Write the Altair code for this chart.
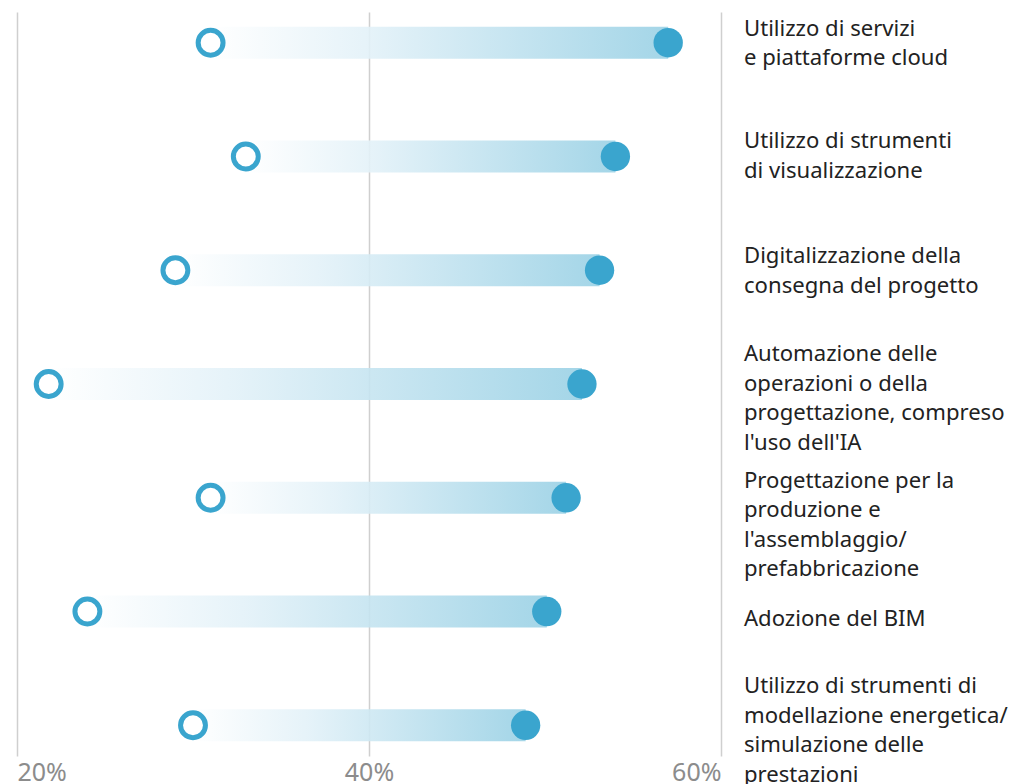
import altair as alt
import pandas as pd

labels = [
    "Utilizzo di servizi\ne piattaforme cloud",
    "Utilizzo di strumenti\ndi visualizzazione",
    "Digitalizzazione della\nconsegna del progetto",
    "Automazione delle\noperazioni o della\nprogettazione, compreso\nl'uso dell'IA",
    "Progettazione per la\nproduzione e\nl'assemblaggio/\nprefabbricazione",
    "Adozione del BIM",
    "Utilizzo di strumenti di\nmodellazione energetica/\nsimulazione delle\nprestazioni",
]
before = [31, 33, 29, 21.8, 31, 24, 30]
after = [57, 54, 53.1, 52.1, 51.2, 50.1, 48.9]
tick_values = [20, 40, 60]

df = pd.DataFrame({"label": labels, "before": before, "after": after,
                   "idx": list(range(len(labels)))})

# vertical offset of each label's first line relative to its row (style only)
label_dy = [-14, -15, -14, -30, -17, 7, -39]

BLUE = "#3AA5CE"
FONT = "Noto Sans"

x_scale = alt.Scale(domain=[20, 60], nice=False, zero=False)
y_enc = alt.Y("label:N", sort=labels, axis=None,
              scale=alt.Scale(type="point", padding=0.27))

x_axis = alt.Axis(values=tick_values, labelExpr="datum.value + '%'",
                  labelFontSize=25, labelColor="#8c8c8c", labelFont=FONT,
                  labelPadding=4, labelFlush=True, domain=False, ticks=False,
                  grid=True, gridColor="#cfcfcf", gridWidth=1.5, title=None)

base = alt.Chart(df)

bars = base.mark_bar(
    size=32,
    opacity=0.9,
    color=alt.Gradient(
        gradient="linear",
        stops=[alt.GradientStop(color="#ffffff", offset=0),
               alt.GradientStop(color="#e2f1f8", offset=0.35),
               alt.GradientStop(color="#9ad1e5", offset=1)],
        x1=0, x2=1, y1=0, y2=0,
    ),
).encode(
    x=alt.X("before:Q", scale=x_scale, axis=x_axis),
    x2="after:Q",
    y=y_enc,
)

open_pts = base.mark_point(
    shape="circle", filled=True, fill="white", stroke=BLUE,
    strokeWidth=5, size=620, opacity=1,
).encode(x=alt.X("before:Q", scale=x_scale), y=y_enc)

filled_pts = base.mark_point(
    shape="circle", filled=True, color=BLUE, size=860, opacity=1,
).encode(x=alt.X("after:Q", scale=x_scale), y=y_enc)

text_layers = []
for i, dy in enumerate(label_dy):
    text_layers.append(
        base.transform_filter(alt.datum.idx == i).mark_text(
            align="left", baseline="middle", dx=23, dy=dy, fontSize=22.1,
            lineHeight=29.5, font=FONT, color="#222222", lineBreak="\n",
        ).encode(x=alt.datum(60, scale=x_scale), y=y_enc, text="label:N")
    )

chart = alt.layer(bars, open_pts, filled_pts, *text_layers).properties(
    width=704, height=744,
    autosize=alt.AutoSizeParams(type="none"),
    padding={"left": 9, "top": 4, "right": 288, "bottom": 40},
).configure_view(stroke=None)

chart.save("out.html", embed_options={"renderer": "svg", "actions": False})
